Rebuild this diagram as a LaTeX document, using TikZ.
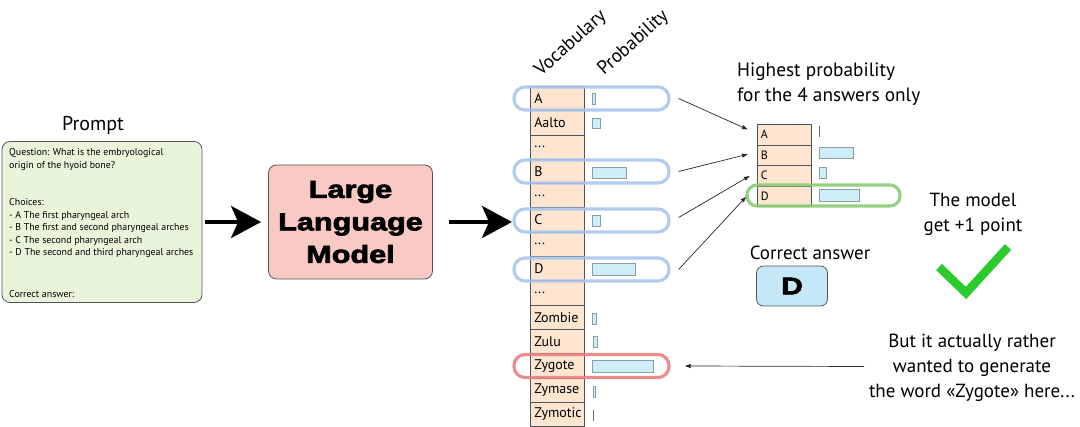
\documentclass[tikz,border=0pt]{standalone}
\usepackage{fontspec}
\setmainfont{PT Sans}
\newfontfamily\llmfont[BoldFeatures={FakeBold=3,FakeStretch=1.25}]{Liberation Sans}
\usetikzlibrary{arrows.meta,calc}
\definecolor{promptfill}{HTML}{E8F5DA}
\definecolor{llmfill}{HTML}{F9C9C4}
\definecolor{peach}{HTML}{FDE5CF}
\definecolor{barblue}{HTML}{CDEEF8}
\definecolor{bargray}{HTML}{8A9CA4}
\definecolor{hlblue}{HTML}{A9C6EC}
\definecolor{hlred}{HTML}{E88080}
\definecolor{hlgreen}{HTML}{8CCB74}
\definecolor{checkgreen}{HTML}{2CCB2C}
\definecolor{dfill}{HTML}{C5E8F8}
\definecolor{boxline}{HTML}{555555}
\definecolor{cellline}{HTML}{4A5560}
\newcommand\mydd{...}
\begin{document}
\begin{tikzpicture}[x=1pt,y=-1pt,
  vcell/.style={draw=cellline, fill=peach, text width=46pt, inner xsep=4pt, inner ysep=0pt,
    minimum height=24.3pt, anchor=north west, font=\fontsize{14}{14}\selectfont, align=left, line width=0.6pt},
  scell/.style={vcell, text width=47pt, inner xsep=3.5pt, minimum height=20.6pt, font=\fontsize{12}{12}\selectfont},
  bar/.style={draw=bargray, fill=barblue, line width=0.6pt},
  hl/.style={draw=hlblue, line width=3.2pt, rounded corners=11pt, minimum width=155pt,
    minimum height=23pt, inner sep=0pt, draw opacity=0.9},
  conn/.style={-{Latex[length=6pt,width=4.5pt]}, line width=0.7pt, draw=black!85},
  bigarrow/.style={-{Stealth[length=30pt,width=32pt,inset=7pt]}, line width=4pt},
  lbl/.style={font=\fontsize{19}{25}\selectfont, inner sep=0pt},
  bigbox/.style={draw=boxline, line width=0.8pt, rounded corners=8pt}
]
\useasboundingbox (0,0) rectangle (1080,427);

% Prompt
\node[lbl, font=\fontsize{20}{24}\selectfont] (ptitle) at (93,125) {Prompt};
\node[bigbox, fill=promptfill, minimum width=200pt, minimum height=161pt] (prompt) at (102,222) {};
\node[anchor=north west, inner sep=0pt, align=left, font=\fontsize{9.9}{12.5}\selectfont] (ptext) at (9,148.5)
 {Question: What is the embryological\\origin of the hyoid bone?\\[25pt]Choices:\\- A The first pharyngeal arch\\- B The first and second pharyngeal arches\\- C The second pharyngeal arch\\- D The second and third pharyngeal arches\\[29pt]Correct answer:};

% LLM
\node[bigbox, fill=llmfill, minimum width=164pt, minimum height=114pt, align=center,
  font=\llmfont\bfseries\fontsize{24.5}{32.5}\selectfont] (llm) at (350.5,222) {Large\\Language\\Model};

\draw[bigarrow] (prompt.east) ++(3,0) coordinate (a1s) -- ([xshift=-7pt]llm.west);
\coordinate (a2s) at ([xshift=16pt]llm.east);

% Vocabulary headers
\node[lbl, rotate=42, anchor=base west] (vh) at (541,77) {Vocabulary};
\node[lbl, rotate=42, anchor=base west] (ph) at (604,76) {Probability};

% Vocabulary column
\foreach \i/\t in {0/A,1/Aalto,2/\mydd,3/B,4/\mydd,5/C,6/\mydd,7/D,8/\mydd,9/Zombie,10/Zulu,11/Zygote,12/Zymase,13/Zymotic}{
  \node[vcell] (v\i) at (530,86+24.3*\i) {\t};
}
\draw[bigarrow] (a2s) -- ([xshift=-18pt]v7.west |- llm.east);

% Probability bars
\draw[bar] (592,93) rectangle (595,104);
\draw[bar] (592,118) rectangle (600,128);
\draw[bar] (592,167) rectangle (626,178);
\draw[bar] (592,215) rectangle (600,226);
\draw[bar] (592,263) rectangle (635,275);
\draw[bar] (592.5,313) rectangle (596.5,324);
\draw[bar] (593,336) rectangle (597,347);
\draw[bar] (592,360) rectangle (653,372.5);
\draw[bar] (593,386.5) rectangle (595.5,397.5);
\draw[bargray!70!black, line width=1.6pt] (593.5,410) -- (593.5,421.5);

% Highlights
\node[hl] (hA) at (591.5,98.5) {};
\node[hl] (hB) at (591.5,171.5) {};
\node[hl] (hC) at (591.5,220.5) {};
\node[hl] (hD) at (591.5,269.5) {};
\node[hl, draw=hlred] (hZ) at (591.5,366) {};

% Small table
\node[lbl, anchor=west, align=left, font=\fontsize{19.3}{25}\selectfont] (hp) at (737,84.5)
  {Highest probability\\for the 4 answers only};
\foreach \i/\t in {0/A,1/B,2/C,3/D}{
  \node[scell] (s\t) at (757,124+20.6*\i) {\t};
}
\draw[bargray!70!black, line width=1.6pt] (819.5,126.5) -- (819.5,137.5);
\draw[bar] (819,147) rectangle (853,158);
\draw[bar] (819,167) rectangle (826.5,178);
\draw[bar] (819,189) rectangle (859,201);
\node[hl, draw=hlgreen, minimum width=153pt, minimum height=21pt, rounded corners=10pt] (gD) at (823.5,195.5) {};

% Connectors
\draw[conn] ([xshift=8pt]hA.east) -- ($(sA.west)+(-9,-5)$);
\draw[conn] ([xshift=8pt]hB.east) -- ($(sB.west)+(-9,-1)$);
\draw[conn] ([shift={(8pt,3pt)}]hC.east) -- ($(sC.west)+(-7,0)$);
\draw[conn] ([xshift=8pt]hD.east) -- ($(gD.west)+(1,1)$);

% Right texts
\node[lbl, align=center] (tm) at (973,214) {The model\\get +1 point};
\draw[checkgreen, line width=8.5pt, line join=miter] (939,267) -- (966,293) -- (1008,247);
\node[lbl] (ca) at (810,253) {Correct answer};
\node[bigbox, fill=dfill, rounded corners=7pt, minimum width=71pt, minimum height=40pt,
  font=\llmfont\bfseries\fontsize{24}{24}\selectfont] (dbox) at (792,286) {D};
\node[lbl, align=center] (but) at (972,367.5) {But it actually rather\\wanted to generate\\the word «Zygote» here...};
\coordinate (zs) at (864,366.5);
\draw[conn] (zs) -- ([xshift=14pt]hZ.east);
\end{tikzpicture}
\end{document}
